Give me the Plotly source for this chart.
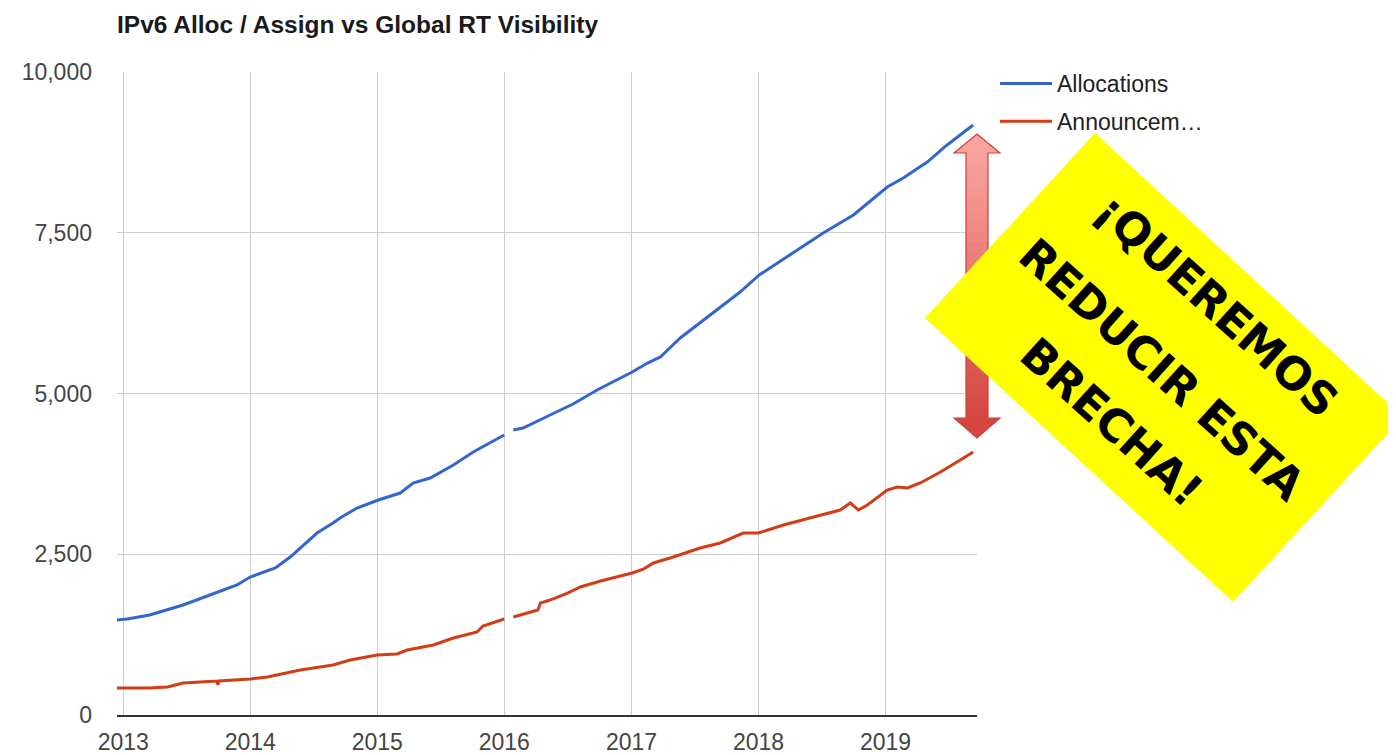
import plotly.graph_objects as go

# ---------------- data ----------------
alloc_dates = [
    "2012-12-14", "2013-01-12", "2013-03-18", "2013-06-22", "2013-09-07", "2013-11-24",
    "2014-01-01", "2014-03-14", "2014-04-26", "2014-05-25", "2014-07-12", "2014-08-27",
    "2014-09-16", "2014-11-04", "2015-01-04", "2015-03-08", "2015-04-14", "2015-06-02",
    "2015-08-08", "2015-10-04", "2015-11-21", "2016-01-01", "2016-01-12", "2016-01-27",
    "2016-02-24", "2016-05-12", "2016-07-17", "2016-09-24", "2017-01-03", "2017-02-16",
    "2017-03-25", "2017-05-21", "2017-07-26", "2017-09-13", "2017-11-09", "2018-01-03",
    "2018-04-02", "2018-07-06", "2018-10-01", "2018-12-09", "2019-01-06", "2019-02-21",
    "2019-05-01", "2019-06-27", "2019-09-10",
]
alloc_values = [
    1477, 1493, 1555, 1711, 1866, 2022,
    2146, 2286, 2457, 2597, 2830, 2986,
    3064, 3219, 3344, 3452, 3608, 3686,
    3888, 4090, 4230, 4355, None, 4432,
    4463, 4666, 4837, 5054, 5334, 5474,
    5568, 5863, 6143, 6345, 6578, 6843,
    7154, 7496, 7776, 8087, 8211, 8351,
    8600, 8865, 9176,
]

announce_dates = [
    "2012-12-14", "2013-03-18", "2013-05-08", "2013-06-22", "2013-08-10", "2013-09-27",
    "2013-09-30", "2013-10-03", "2014-01-01", "2014-02-19", "2014-05-25", "2014-08-27",
    "2014-10-15", "2015-01-01", "2015-02-27", "2015-03-28", "2015-06-11", "2015-08-08",
    "2015-10-15", "2015-11-01", "2016-01-01", "2016-01-12", "2016-01-27", "2016-03-24",
    "2016-04-07", "2016-04-14", "2016-05-12", "2016-07-01", "2016-08-07", "2016-10-04",
    "2017-01-03", "2017-02-04", "2017-03-05", "2017-05-01", "2017-07-17", "2017-09-13",
    "2017-11-18", "2018-01-01", "2018-03-14", "2018-06-08", "2018-08-24", "2018-09-22",
    "2018-10-15", "2018-11-10", "2019-01-06", "2019-02-04", "2019-03-05", "2019-04-11",
    "2019-06-08", "2019-08-04", "2019-09-10",
]
announce_values = [
    420, 420, 435, 498, 513, 529,
    467, 529, 560, 591, 700, 778,
    855, 933, 949, 1011, 1089, 1198,
    1291, 1384, 1493, None, 1524, 1617,
    1633, 1742, 1788, 1897, 1991, 2084,
    2208, 2270, 2364, 2457, 2597, 2675,
    2830, 2830, 2955, 3079, 3188, 3297,
    3188, 3266, 3499, 3546, 3530, 3608,
    3779, 3966, 4090,
]

series_names = ["Allocations", "Announcem…"]
year_ticks = ["2013-01-01", "2014-01-01", "2015-01-01", "2016-01-01",
              "2017-01-01", "2018-01-01", "2019-01-01"]
year_labels = ["2013", "2014", "2015", "2016", "2017", "2018", "2019"]
y_ticks = [0, 2500, 5000, 7500, 10000]
y_labels = ["0", "2,500", "5,000", "7,500", "10,000"]
title_text = "IPv6 Alloc / Assign vs Global RT Visibility"
note_lines = ["¡QUEREMOS", "REDUCIR ESTA", "BRECHA!"]

# ---------------- layout geometry ----------------
# The page body has an 8px margin, so the figure is 8px smaller than the window
# and every screen position is offset by 8px.
OFF = 8
W, H = 1396 - OFF, 755 - OFF
ML, MR, MT, MB = 117 - OFF, 419, 72 - OFF, 40
PW, PH = W - ML - MR, H - MT - MB


def px(x, y):
    """screen pixel -> paper coordinates"""
    return (x - OFF - ML) / PW, (H - MB - (y - OFF)) / PH


def path(points):
    pts = [px(x, y) for x, y in points]
    return "M " + " L ".join(f"{a:.5f},{b:.5f}" for a, b in pts) + " Z"


fig = go.Figure()
fig.add_trace(go.Scatter(x=alloc_dates, y=alloc_values, mode="lines",
                         name=series_names[0], legendgroup="a",
                         line=dict(color="#3366cc", width=3)))
fig.add_trace(go.Scatter(x=announce_dates, y=announce_values, mode="lines",
                         name=series_names[1], legendgroup="b",
                         line=dict(color="#d23c17", width=3)))

shapes = []

# ---- red double arrow with vertical gradient ----
cx = 977
top_tip, top_base, bot_base, bot_tip = 134, 153, 418, 438
shaft_half, head_half = 11, 23
c_top = (249, 163, 158)
c_bot = (213, 70, 64)


def mix(t):
    return "rgb(%d,%d,%d)" % tuple(round(a + (b - a) * t) for a, b in zip(c_top, c_bot))


shapes.append(dict(type="path", xref="paper", yref="paper", layer="above",
                   path=path([(cx, top_tip), (cx + head_half, top_base), (cx - head_half, top_base)]),
                   fillcolor=mix(0.0), line=dict(width=0)))
n = 24
for i in range(n):
    y0 = top_base + (bot_base - top_base) * i / n
    y1 = top_base + (bot_base - top_base) * (i + 1) / n + 0.6
    shapes.append(dict(type="path", xref="paper", yref="paper", layer="above",
                       path=path([(cx - shaft_half, y0), (cx + shaft_half, y0),
                                  (cx + shaft_half, y1), (cx - shaft_half, y1)]),
                       fillcolor=mix((i + 0.5) / n), line=dict(width=0)))
shapes.append(dict(type="path", xref="paper", yref="paper", layer="above",
                   path=path([(cx, bot_tip), (cx + head_half, bot_base), (cx - head_half, bot_base)]),
                   fillcolor=mix(1.0), line=dict(width=0)))
shapes.append(dict(type="path", xref="paper", yref="paper", layer="above",
                   path=path([(cx, top_tip), (cx + head_half, top_base), (cx + shaft_half, top_base),
                              (cx + shaft_half, bot_base), (cx + head_half, bot_base), (cx, bot_tip),
                              (cx - head_half, bot_base), (cx - shaft_half, bot_base),
                              (cx - shaft_half, top_base), (cx - head_half, top_base)]),
                   fillcolor="rgba(0,0,0,0)", line=dict(color="#c9423c", width=1.2)))

# ---- yellow sticky note ----
shapes.append(dict(type="path", xref="paper", yref="paper", layer="above",
                   path=path([(1095, 133), (1403, 417), (1233, 602), (925, 318)]),
                   fillcolor="#ffff00", line=dict(width=0)))

annotations = []
line_centres = [(1217, 305), (1162, 369), (1112, 422)]
for text, (x, y) in zip(note_lines, line_centres):
    ax, ay = px(x, y)
    annotations.append(dict(x=ax, y=ay, xref="paper", yref="paper", text=text,
                            showarrow=False, textangle=42, xanchor="center", yanchor="middle",
                            font=dict(family="DejaVu Sans", size=45, color="#000000", weight="bold")))

fig.update_layout(
    width=W, height=H,
    margin=dict(l=ML, r=MR, t=MT, b=MB, autoexpand=False),
    paper_bgcolor="white", plot_bgcolor="white",
    title=dict(text=f"<b>{title_text}</b>", x=(117 - OFF) / W, xref="container", xanchor="left",
               y=1 - 16 / H, yref="container", yanchor="middle",
               font=dict(family="Arial, Liberation Sans", size=24.5, color="#1a1a1a")),
    font=dict(family="Arial, Liberation Sans", size=23, color="#444444"),
    showlegend=True,
    legend=dict(x=(995 - OFF - ML) / PW, xanchor="left", y=1 + 10 / PH, yanchor="top",
                font=dict(family="Arial, Liberation Sans", size=23, color="#222222"),
                bgcolor="rgba(0,0,0,0)", borderwidth=0, itemwidth=52,
                tracegroupgap=5, traceorder="grouped"),
    shapes=shapes,
    annotations=annotations,
)

fig.update_xaxes(
    type="date", range=["2012-12-14", "2019-09-21"],
    tickvals=year_ticks, ticktext=year_labels, automargin=False,
    showgrid=True, gridcolor="#cccccc", gridwidth=1,
    showline=True, linecolor="#333333", linewidth=2,
    ticks="", ticklabelstandoff=5,
    tickfont=dict(size=23, color="#444444"),
    zeroline=False,
)
fig.update_yaxes(
    range=[0, 10000], tickvals=y_ticks, ticktext=y_labels, automargin=False,
    showgrid=True, gridcolor="#cccccc", gridwidth=1,
    showline=False, zeroline=False, ticks="", ticklabelstandoff=24,
    tickfont=dict(size=23, color="#444444"),
)

fig.write_html("out.html")
